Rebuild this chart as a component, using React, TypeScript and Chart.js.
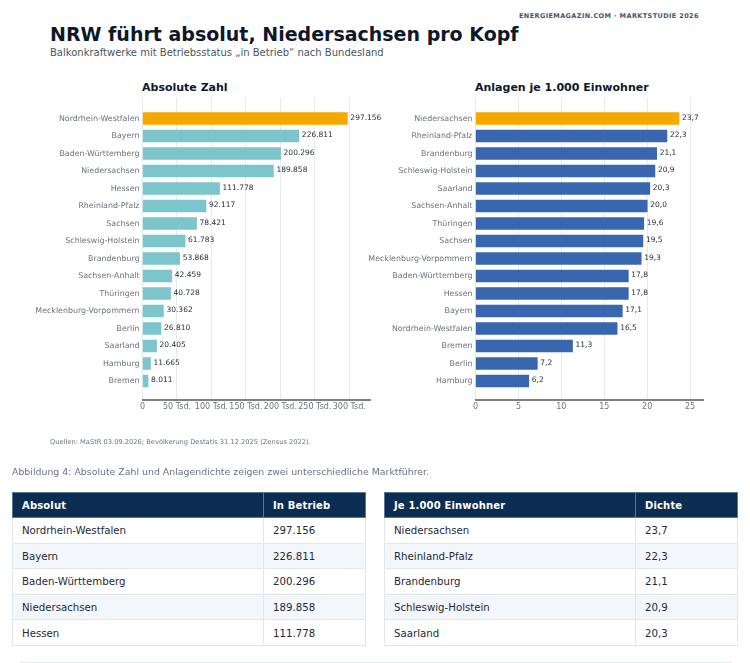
import React, { useEffect, useRef } from "react";
import { Chart, registerables } from "chart.js";

Chart.register(...registerables);

const absLabels = ["Nordrhein-Westfalen", "Bayern", "Baden-Württemberg", "Niedersachsen", "Hessen", "Rheinland-Pfalz", "Sachsen", "Schleswig-Holstein", "Brandenburg", "Sachsen-Anhalt", "Thüringen", "Mecklenburg-Vorpommern", "Berlin", "Saarland", "Hamburg", "Bremen"];
const absValues = [297156, 226811, 200296, 189858, 111778, 92117, 78421, 61783, 53868, 42459, 40728, 30362, 26810, 20405, 11665, 8011];
const densLabels = ["Niedersachsen", "Rheinland-Pfalz", "Brandenburg", "Schleswig-Holstein", "Saarland", "Sachsen-Anhalt", "Thüringen", "Sachsen", "Mecklenburg-Vorpommern", "Baden-Württemberg", "Hessen", "Bayern", "Nordrhein-Westfalen", "Bremen", "Berlin", "Hamburg"];
const densValues = [23.7, 22.3, 21.1, 20.9, 20.3, 20.0, 19.6, 19.5, 19.3, 17.8, 17.8, 17.1, 16.5, 11.3, 7.2, 6.2];
const absTicks = [0, 50000, 100000, 150000, 200000, 250000, 300000];
const densTicks = [0, 5, 10, 15, 20, 25];

const FONT = "'DejaVu Sans', sans-serif";
const fmtAbs = (v: number) => v.toLocaleString("de-DE");
const fmtDens = (v: number) => v.toLocaleString("de-DE", { minimumFractionDigits: 1, maximumFractionDigits: 1 });
const fmtAbsTick = (v: number) => (v === 0 ? "0" : `${v / 1000} Tsd.`);

type BarProps = {
  labels: string[];
  values: number[];
  ticks: number[];
  max: number;
  color: string;
  fmtValue: (v: number) => string;
  fmtTick: (v: number) => string;
  left: number;
  width: number;
  axisWidth: number;
  rightPad: number;
};

function BarChart(p: BarProps) {
  const ref = useRef<HTMLCanvasElement>(null);
  useEffect(() => {
    const valueLabels = {
      id: "valueLabels",
      afterDatasetsDraw(chart: any) {
        const { ctx, scales } = chart;
        ctx.save();
        ctx.font = `7.5px ${FONT}`;
        ctx.fillStyle = "#1f2937";
        ctx.textBaseline = "middle";
        p.values.forEach((v, i) => {
          ctx.fillText(p.fmtValue(v), scales.x.getPixelForValue(v) + 3, scales.y.getPixelForValue(i) - 0.5);
        });
        ctx.restore();
      },
    };
    const chart = new Chart(ref.current!, {
      type: "bar",
      data: {
        datasets: [{
          data: p.values.map((v, i) => ({ x: v, y: i })),
          backgroundColor: p.values.map((_, i) => (i === 0 ? "#f5a800" : p.color)),
          barThickness: 12,
          borderSkipped: false,
        }],
      },
      plugins: [valueLabels],
      options: {
        indexAxis: "y",
        animation: false,
        responsive: false,
        layout: { padding: { top: 8, right: p.rightPad, bottom: 0, left: 0 } },
        plugins: { legend: { display: false }, tooltip: { enabled: false }, title: { display: false } },
        scales: {
          x: {
            type: "linear",
            min: 0,
            max: p.max,
            afterBuildTicks: (s: any) => { s.ticks = p.ticks.map((value) => ({ value })); },
            afterFit: (s: any) => { s.height = 40; },
            grid: { color: "#e8eaef", lineWidth: 1, drawTicks: false },
            border: { display: true, color: "#808080", width: 2 },
            ticks: { callback: (v: any) => p.fmtTick(Number(v)), color: "#6b7280", font: { family: FONT, size: 8 }, padding: 2, maxRotation: 0, autoSkip: false },
          },
          y: {
            type: "linear",
            reverse: true,
            offset: false,
            min: -1.171,
            max: 16.086,
            afterBuildTicks: (s: any) => { s.ticks = p.labels.map((_, i) => ({ value: i })); },
            afterFit: (s: any) => { s.width = p.axisWidth; },
            grid: { display: false, drawTicks: false },
            border: { display: false },
            ticks: { callback: (v: any) => p.labels[Number(v)] ?? "", color: "#6b7280", font: { family: FONT, size: 7.9 }, padding: 3, autoSkip: false },
          },
        },
      },
    } as any);
    return () => chart.destroy();
  }, []);
  return <canvas ref={ref} width={p.width} height={350} style={{ position: "absolute", left: p.left, top: 90, width: p.width, height: 350 }} />;
}

function DataTable({ head, rows, left }: { head: string[]; rows: string[][]; left: number }) {
  const cell: React.CSSProperties = { padding: "1px 0 0 9px", borderRight: "1px solid #e2e8f0", borderBottom: "1px solid #e2e8f0", borderLeft: "1px solid #e2e8f0", color: "#1f2937", boxSizing: "border-box" };
  return (
    <table style={{ position: "absolute", left, top: 492, width: 353, borderCollapse: "collapse", tableLayout: "fixed", font: `10.2px ${FONT}` }}>
      <colgroup><col style={{ width: 251 }} /><col style={{ width: 102 }} /></colgroup>
      <thead>
        <tr style={{ height: 25, background: "#0b2d52" }}>
          {head.map((h) => (
            <th key={h} style={{ ...cell, padding: "0 0 0 9px", fontSize: 10, color: "#fff", textAlign: "left", fontWeight: 700, letterSpacing: 0.15, border: "1px solid #5b7692" }}>{h}</th>
          ))}
        </tr>
      </thead>
      <tbody>
        {rows.map((r, i) => (
          <tr key={r[0]} style={{ height: 25.6, background: i % 2 ? "#f3f6fa" : "#fff" }}>
            {r.map((c) => <td key={c} style={cell}>{c}</td>)}
          </tr>
        ))}
      </tbody>
    </table>
  );
}

const text = (left: number, top: number, font: string, color: string, extra: React.CSSProperties = {}): React.CSSProperties => ({
  position: "absolute", left, top, font, color, whiteSpace: "nowrap", ...extra,
});

export default function App() {
  return (
    <div style={{ position: "absolute", left: 0, top: 0, width: 750, height: 663, overflow: "hidden", background: "#fff", fontFamily: FONT }}>
      <div style={text(519, 11, `bold 6.5px/10px ${FONT}`, "#475569", { letterSpacing: 0.4 })}>ENERGIEMAGAZIN.COM · MARKTSTUDIE 2026</div>
      <div style={text(50, 20, `bold 19px/28px ${FONT}`, "#0f172a")}>NRW führt absolut, Niedersachsen pro Kopf</div>
      <div style={text(50, 46, `10px/14px ${FONT}`, "#4b5563")}>Balkonkraftwerke mit Betriebsstatus „in Betrieb“ nach Bundesland</div>

      <div style={text(142, 80, `bold 11px/16px ${FONT}`, "#0f172a")}>Absolute Zahl</div>
      <div style={text(475, 79.5, `bold 11px/16px ${FONT}`, "#0f172a")}>Anlagen je 1.000 Einwohner</div>

      <BarChart labels={absLabels} values={absValues} ticks={absTicks} max={330000} color="#7cc5ca" fmtValue={fmtAbs} fmtTick={fmtAbsTick} left={0} width={400} axisWidth={142.5} rightPad={30} />
      <BarChart labels={densLabels} values={densValues} ticks={densTicks} max={26.5} color="#3867b0" fmtValue={fmtDens} fmtTick={(v) => String(v)} left={330} width={420} axisWidth={145.5} rightPad={47} />

      <div style={text(50, 437, `6.7px/10px ${FONT}`, "#64748b")}>Quellen: MaStR 03.09.2026; Bevölkerung Destatis 31.12.2025 (Zensus 2022).</div>
      <div style={text(12, 465, `9.4px/14px ${FONT}`, "#64748b")}>Abbildung 4: Absolute Zahl und Anlagendichte zeigen zwei unterschiedliche Marktführer.</div>

      <DataTable head={["Absolut", "In Betrieb"]} rows={absLabels.slice(0, 5).map((l, i) => [l, fmtAbs(absValues[i])])} left={12} />
      <DataTable head={["Je 1.000 Einwohner", "Dichte"]} rows={densLabels.slice(0, 5).map((l, i) => [l, fmtDens(densValues[i])])} left={384} />

      <div style={{ position: "absolute", left: 20, top: 662, width: 712, height: 1, background: "#e2e8f0" }} />
    </div>
  );
}
